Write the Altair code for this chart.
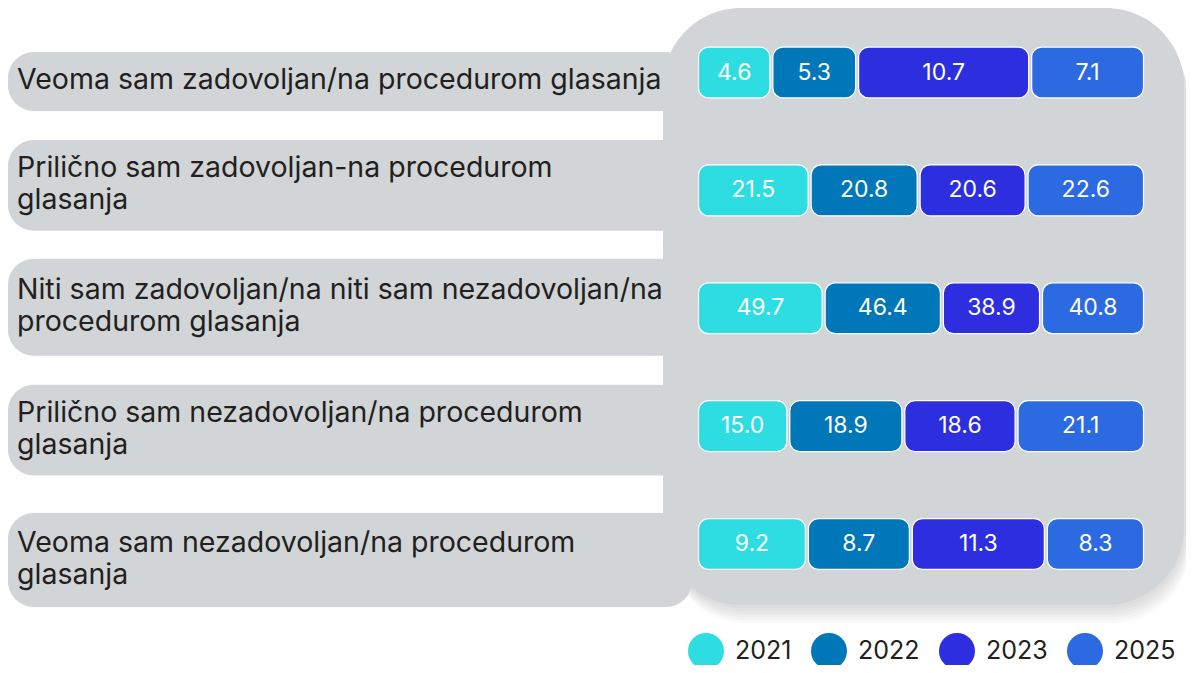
import altair as alt
import pandas as pd

# ---- data ----
categories = [
    "Veoma sam zadovoljan/na procedurom glasanja",
    "Prilično sam zadovoljan-na procedurom\nglasanja",
    "Niti sam zadovoljan/na niti sam nezadovoljan/na\nprocedurom glasanja",
    "Prilično sam nezadovoljan/na procedurom\nglasanja",
    "Veoma sam nezadovoljan/na procedurom\nglasanja",
]
years = ["2021", "2022", "2023", "2025"]
v2021 = [4.6, 21.5, 49.7, 15.0, 9.2]
v2022 = [5.3, 20.8, 46.4, 18.9, 8.7]
v2023 = [10.7, 20.6, 38.9, 18.6, 11.3]
v2025 = [7.1, 22.6, 40.8, 21.1, 8.3]
colors = ["#2DDDE2", "#0077B8", "#2C2EE0", "#2C6AE2"]

# ---- layout (pixels) ----
W, H = 1178, 657
FONT = "Inter"
TXT = "#231F20"
GREY = "#D1D5D7"
ROW_PX = 118.0
LINE_H = 32
box_shift = [9, -5, -1, 4, 16]
box_h = [59, 91, 97, 91, 94]

series = [v2021, v2022, v2023, v2025]
rows = []
for i, cat in enumerate(categories):
    for j, y in enumerate(years):
        rows.append({"cat": cat, "idx": i, "year": y, "yi": j, "v": series[j][i]})
df = pd.DataFrame(rows)

nlines = [c.count("\n") + 1 for c in categories]
cats = pd.DataFrame({"cat": categories, "idx": list(range(len(categories)))})
cats["b0"] = [i + (s - h / 2) / ROW_PX for i, s, h in zip(cats["idx"], box_shift, box_h)]
cats["b1"] = [i + (s + h / 2) / ROW_PX for i, s, h in zip(cats["idx"], box_shift, box_h)]
cats["tc"] = [i + (s - (n - 1) * LINE_H / 2 - 1) / ROW_PX
              for i, s, n in zip(cats["idx"], box_shift, nlines)]

yscale = alt.Scale(domain=[0, 4], range=[64.5, 536])
xscale = alt.Scale(domain=[0, 1], range=[689, 1137])
one = pd.DataFrame({"k": [0]})

# panel shadow (soft, layered)
shadows = []
for dx, dy in [(1, 3), (2, 6), (3, 9), (4, 12), (5, 15), (6, 18)]:
    shadows.append(
        alt.Chart(one).mark_rect(cornerRadius=78, fill="#6b6b6b", opacity=0.045).encode(
            x=alt.value(655 + dx), x2=alt.value(1176 + dx),
            y=alt.value(0 + dy), y2=alt.value(597 + dy),
        )
    )

panel = alt.Chart(one).mark_rect(cornerRadius=78, fill=GREY).encode(
    x=alt.value(655), x2=alt.value(1176), y=alt.value(0), y2=alt.value(597)
)

boxes = alt.Chart(cats).mark_rect(cornerRadius=26, fill=GREY).encode(
    x=alt.value(0), x2=alt.value(684),
    y=alt.Y("b0:Q", scale=yscale, axis=None),
    y2="b1:Q",
)

cat_text = alt.Chart(cats).mark_text(
    align="left", baseline="middle", font=FONT, fontSize=28.5, color=TXT,
    lineBreak="\n", lineHeight=LINE_H,
).encode(
    x=alt.value(9),
    y=alt.Y("tc:Q", scale=yscale, axis=None),
    text="cat:N",
)

base = alt.Chart(df).transform_joinaggregate(
    total="sum(v)", groupby=["cat"]
).transform_window(
    cum="sum(v)", sort=[alt.SortField("yi")], groupby=["cat"], frame=[None, 0]
).transform_calculate(
    x0="(datum.cum - datum.v) / datum.total",
    x1="datum.cum / datum.total",
    xm="(datum.cum - datum.v / 2) / datum.total",
    y0="datum.idx - 0.216",
    y1="datum.idx + 0.216",
)

bars = base.mark_rect(
    cornerRadius=10, stroke="white", strokeWidth=1.2, xOffset=1.5, x2Offset=-1.5
).encode(
    x=alt.X("x0:Q", scale=xscale, axis=None),
    x2="x1:Q",
    y=alt.Y("y0:Q", scale=yscale, axis=None),
    y2="y1:Q",
    color=alt.Color(
        "year:N",
        scale=alt.Scale(domain=years, range=colors),
        legend=alt.Legend(
            orient="none", legendX=680, legendY=625, direction="horizontal",
            title=None, symbolType="circle", symbolSize=1296, symbolStrokeWidth=0,
            symbolOpacity=1, labelFontSize=25, labelFont=FONT, labelColor=TXT,
            columnPadding=19, labelOffset=11, padding=0,
        ),
    ),
)

vals = base.mark_text(
    font=FONT, fontSize=23, color="white", baseline="middle", align="center"
).encode(
    x=alt.X("xm:Q", scale=xscale, axis=None),
    y=alt.Y("idx:Q", scale=yscale, axis=None),
    text=alt.Text("v:Q", format=".1f"),
)

chart = alt.layer(*shadows, panel, boxes, cat_text, bars, vals).properties(
    width=W, height=H,
    autosize=alt.AutoSizeParams(type="none"),
    padding=0,
    background="white",
).configure_view(stroke=None)

chart.save("out.html", embed_options={"renderer": "svg", "actions": False})
